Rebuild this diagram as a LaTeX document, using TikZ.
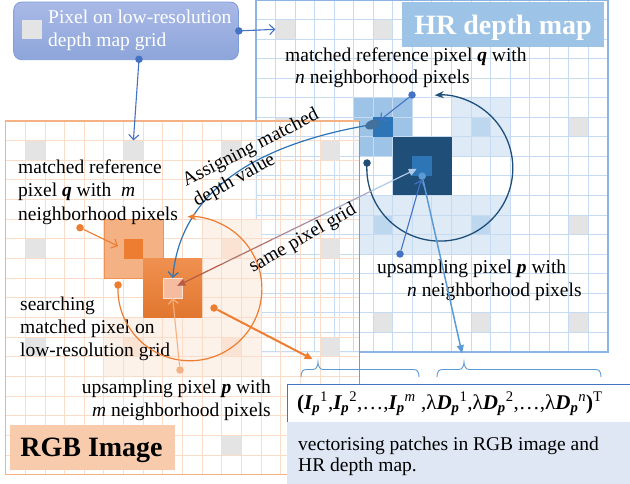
\documentclass[tikz,border=0pt]{standalone}
\usepackage{fontspec}
\setmainfont{Liberation Serif}
\usetikzlibrary{arrows.meta,calc,shapes.geometric}
\definecolor{hgrid}{HTML}{C6DBF1}
\definecolor{hborder}{HTML}{8DB3E2}
\definecolor{hlight}{HTML}{DEEBF7}
\definecolor{hlighttwo}{HTML}{BDD7EE}
\definecolor{hmed}{HTML}{9DC3E6}
\definecolor{cq}{HTML}{2E75B6}
\definecolor{navy}{HTML}{1F4E79}
\definecolor{lowgray}{HTML}{E4E4E4}
\definecolor{rgrid}{HTML}{FBDCC8}
\definecolor{rborder}{HTML}{F4B183}
\definecolor{rlight}{HTML}{FDF2EA}
\definecolor{rlighttwo}{HTML}{FBE3D3}
\definecolor{salmon}{HTML}{F4B183}
\definecolor{orng}{HTML}{ED7D31}
\definecolor{rpc}{HTML}{F6BC9F}
\definecolor{bblue}{HTML}{4472C4}
\definecolor{lblue}{HTML}{5B9BD5}
\definecolor{steel}{HTML}{2E75B6}
\definecolor{blobc}{HTML}{41719C}
\definecolor{descc}{HTML}{DEE7F3}
\definecolor{boxtop}{HTML}{A9B9E6}
\definecolor{boxbot}{HTML}{8DA5DA}
\definecolor{boxline}{HTML}{7D9BD8}
\definecolor{rlab}{HTML}{F8CBAD}
\definecolor{sgA}{HTML}{B85A45}
\definecolor{sgB}{HTML}{B07468}
\definecolor{sgC}{HTML}{A98A9C}
\definecolor{sgD}{HTML}{A6A9C8}
\definecolor{sgE}{HTML}{AECBEA}
\newcommand{\myfs}{\fontsize{19.5}{23.5}\selectfont}
\newcommand{\mybi}[1]{{\bfseries\itshape #1}}
\newcommand{\hx}[1]{(256+(#1)*19.55)}
\newcommand{\hy}[1]{((#1)*19.55)}
\newcommand{\rx}[1]{(5.7+(#1)*19.65)}
\newcommand{\ry}[1]{(121+(#1)*19.65)}
\begin{document}
\begin{tikzpicture}[x=1pt,y=-1pt,
  txt/.style={inner sep=0pt, anchor=base west, font=\myfs},
  dotn/.style={circle, fill=#1, inner sep=0pt, minimum size=7.5pt},
  hcell/.style={minimum size=19.55pt, inner sep=0pt, fill=#1},
  rcell/.style={minimum size=19.65pt, inner sep=0pt, fill=#1},
  openarr/.style={-{Straight Barb[length=5pt,width=10pt]}},
  fillarr/.style={-{Triangle[length=8pt,width=7pt]}},
  bracec/.style={draw=lblue, line width=0.9pt},
]
\useasboundingbox (0,0) rectangle (630,484);
\fill[white] (0,0) rectangle (630,484);

% ---------------- HR depth map ----------------
\fill[white] ({\hx{0}},{\hy{0}}) rectangle ({\hx{18}},{\hy{18}});
\foreach \c in {1,6,11,16}{\foreach \r in {1,6,11,16}{
  \fill[lowgray] ({\hx{\c}},{\hy{\r}}) rectangle ({\hx{\c+1}},{\hy{\r+1}});}}
\fill[hlight] ({\hx{10}},{\hy{5}}) rectangle ({\hx{13}},{\hy{8}});
\fill[hlight] ({\hx{5}},{\hy{10}}) rectangle ({\hx{13}},{\hy{13}});
\fill[hlighttwo] ({\hx{11}},{\hy{6}}) rectangle ({\hx{12}},{\hy{7}});
\fill[hlighttwo] ({\hx{6}},{\hy{11}}) rectangle ({\hx{7}},{\hy{12}});
\fill[hlighttwo] ({\hx{11}},{\hy{11}}) rectangle ({\hx{12}},{\hy{12}});
\fill[hmed] ({\hx{5}},{\hy{5}}) rectangle ({\hx{8}},{\hy{8}});
\node[hcell=lowgray] (h11) at ({\hx{1.5}},{\hy{1.5}}) {};
\foreach \i in {0,...,18}{
  \draw[hgrid, line width=1pt] ({\hx{\i}},{\hy{0}}) -- ({\hx{\i}},{\hy{18}});
  \draw[hgrid, line width=1pt] ({\hx{0}},{\hy{\i}}) -- ({\hx{18}},{\hy{\i}});
}
\fill[navy] ({\hx{7}},{\hy{7}}) rectangle ({\hx{10}},{\hy{10}});
\node[hcell=cq] (hq) at ({\hx{6.5}},{\hy{6.5}}) {};
\node[hcell=cq] (hp) at ({\hx{8.5}},{\hy{8.5}}) {};
\draw[hborder, line width=1.4pt] ({\hx{0}},{\hy{0}}) rectangle ({\hx{18}},{\hy{18}});
\node[fill=hmed, anchor=north west, minimum width=202pt, minimum height=45pt, inner sep=0pt] (hrlab) at (402,1.7) {};
\node[inner sep=0pt, anchor=base, text=white, font=\fontsize{28}{30}\selectfont\bfseries] (hrlabt) at (503,35) {HR depth map};

% ---------------- RGB image ----------------
\fill[white, fill opacity=0.9] ({\rx{0}},{\ry{0}}) rectangle ({\rx{18}},{\ry{18}});
\begin{scope}
\clip ({\rx{0}},{\ry{0}}) rectangle ({\rx{18}},{\ry{18}});
\foreach \i in {0,...,18}{
  \draw[hgrid, line width=1pt] ({\hx{\i}},{\hy{0}}) -- ({\hx{\i}},{\hy{18}});
  \draw[hgrid, line width=1pt] ({\hx{0}},{\hy{\i}}) -- ({\hx{18}},{\hy{\i}});
}
\end{scope}
\foreach \c in {1,6,11,16}{\foreach \r in {1,6,11,16}{
  \fill[lowgray] ({\rx{\c}},{\ry{\r}}) rectangle ({\rx{\c+1}},{\ry{\r+1}});}}
\fill[rlight] ({\rx{10}},{\ry{5}}) rectangle ({\rx{13}},{\ry{13}});
\fill[rlight] ({\rx{5}},{\ry{10}}) rectangle ({\rx{10}},{\ry{13}});
\fill[rlighttwo] ({\rx{11}},{\ry{6}}) rectangle ({\rx{12}},{\ry{7}});
\fill[rlighttwo] ({\rx{6}},{\ry{11}}) rectangle ({\rx{7}},{\ry{12}});
\fill[rlighttwo] ({\rx{11}},{\ry{11}}) rectangle ({\rx{12}},{\ry{12}});
\node[rcell=lowgray] (r61) at ({\rx{6.5}},{\ry{1.5}}) {};
\foreach \i in {0,...,18}{
  \draw[rgrid, line width=1pt] ({\rx{\i}},{\ry{0}}) -- ({\rx{\i}},{\ry{18}});
  \draw[rgrid, line width=1pt] ({\rx{0}},{\ry{\i}}) -- ({\rx{18}},{\ry{\i}});
}
\filldraw[fill=salmon, draw=orng!60!salmon, line width=0.6pt] ({\rx{5}},{\ry{5}}) rectangle ({\rx{8}},{\ry{8}});
\shade[top color=orng!85!white, bottom color=orng!95!black] ({\rx{7}},{\ry{7}}) rectangle ({\rx{10}},{\ry{10}});
\node[rcell=orng] (rq) at ({\rx{6.5}},{\ry{6.5}}) {};
\node[rcell=rpc, draw=rlighttwo, line width=0.6pt] (rp) at ({\rx{8.5}},{\ry{8.5}}) {};
\draw[rborder, line width=1.2pt] ({\rx{0}},{\ry{0}}) rectangle ({\rx{18}},{\ry{18}});
\draw[orng, line width=1.2pt] ({\rx{18}},{\ry{0}}) -- ({\rx{18}},{\ry{18}});
\node[fill=rlab, anchor=north west, minimum width=165.7pt, minimum height=44.3pt, inner sep=0pt] (rgblab) at (9.3,425) {};
\node[inner sep=0pt, anchor=base, font=\fontsize{28}{30}\selectfont\bfseries] (rgblabt) at (91.5,456.7) {RGB Image};

% ---------------- top box ----------------
\node[rounded corners=8pt, top color=boxtop, bottom color=boxbot, draw=boxline, line width=0.8pt,
      anchor=north west, minimum width=224.7pt, minimum height=57.6pt, inner sep=0pt] (pixbox) at (13.3,1.7) {};
\node[fill=lowgray, anchor=north west, minimum width=20pt, minimum height=19.3pt, inner sep=0pt] (pixsq) at (21.7,20) {};
\node[txt, text=white] (pixt1) at (48,23.3) {Pixel on low-resolution};
\node[txt, text=white] (pixt2) at (48,46.7) {depth map grid};
\coordinate (pbotc) at (139,59.3);
\draw[bblue, line width=1.1pt, openarr] (pixbox.east) -- (h11.west);
\draw[bblue, line width=1.1pt, openarr] (pbotc) -- (r61.north);
\node[dotn=bblue] (pixdr) at (pixbox.east) {};
\node[dotn=bblue] (pixdb) at (pbotc) {};

% ---------------- HR texts and connectors ----------------
\node[txt] (hqt1) at (285,61.7) {matched reference pixel \mybi{q} with};
\node[txt] (hqt2) at (295,84) {{\itshape n} neighborhood pixels};
\node[txt] (hpt1) at (377,273.3) {upsampling pixel \mybi{p} with};
\node[txt] (hpt2) at (407,296.7) {{\itshape n} neighborhood pixels};

\node[dotn=bblue] (hqd) at (412,95) {};
\draw[bblue, line width=1.1pt, openarr] (hqd) -- ($(hq.north)+(-3,3)$);
\node[dotn=navy] (hcd) at (367,163) {};
\draw[navy, line width=1.3pt, -{Stealth[length=9pt,width=7pt]}] (hcd.center) arc[start angle=184, end angle=-94, radius=73];

% same pixel grid double arrow
\path (rp.center) -- (hp.center) coordinate[pos=0.2] (sa) coordinate[pos=0.4] (sb) coordinate[pos=0.6] (sc) coordinate[pos=0.8] (sd);
\draw[sgA, line width=1.2pt, {Triangle[length=8pt,width=7pt]}-, shorten <=5pt] (rp.center) -- (sa);
\draw[sgB, line width=1.2pt] (sa) -- (sb);
\draw[sgC, line width=1.2pt] (sb) -- (sc);
\draw[sgD, line width=1.2pt] (sc) -- (sd);
\draw[sgE, line width=1.2pt, -{Triangle[length=8pt,width=7pt]}, shorten >=6pt] (sd) -- (hp.center);
\node[txt, rotate=30] (spg) at (253,273) {same pixel grid};

% assigning arrow
\draw[steel, line width=1.2pt, openarr] (372.5,124.5) .. controls (280,140) and (182,178) .. (rp.north);
\node[ellipse, fill=blobc, minimum width=15pt, minimum height=9pt, inner sep=0pt, rotate=20] (blob) at (372.5,124.5) {};
\node[txt, rotate=27] (asg1) at (186,186.7) {Assigning matched};
\node[txt, rotate=29] (asg2) at (197,207) {depth value};

\node[dotn=lblue] (hpd) at (hp.south) {};
\node[dotn=bblue] (hud) at (400,254) {};
\draw[bblue, line width=1.1pt, openarr] (hud) -- (hpd);

% ---------------- RGB texts and connectors ----------------
\node[txt] (rqt1) at (18,173.5) {matched reference};
\node[txt] (rqt2) at (18,197) {pixel \mybi{q} with\ \ {\itshape m}};
\node[txt] (rqt3) at (18,220.5) {neighborhood pixels};
\node[txt] (rst1) at (20,310) {searching};
\node[txt] (rst2) at (20,333.3) {matched pixel on};
\node[txt] (rst3) at (20,356.7) {low-resolution grid};
\node[txt, anchor=base east] (rpt1) at (271,393.3) {upsampling pixel \mybi{p} with};
\node[txt, anchor=base east] (rpt2) at (271,416.7) {{\itshape m} neighborhood pixels};

\node[dotn=orng] (rqd) at (80,227.7) {};
\draw[orng, line width=1.1pt, openarr, shorten >=6pt] (rqd) -- (rq.west);
\node[dotn=orng] (rcd) at (118,285) {};
\draw[orng, line width=1.2pt, -{Stealth[length=9pt,width=7pt]}] (rcd.center) arc[start angle=183, end angle=-92, radius=72];
\node[dotn=salmon] (rud) at (180,370) {};
\draw[salmon, line width=1.1pt, openarr] (rud) -- (rp.south);

% ---------------- vector boxes ----------------
\node[draw=bblue, fill=white, line width=0.9pt, anchor=north west, minimum width=360pt, minimum height=37.4pt, inner sep=0pt] (vecbox) at (286.7,384.3) {};
\node[txt, font=\fontsize{21}{24}\selectfont] (vec) at (297,409) {{\bfseries(}\mybi{I}\textsubscript{\mybi{p}}\textsuperscript{1},\mybi{I}\textsubscript{\mybi{p}}\textsuperscript{2},…,\mybi{I}\textsubscript{\mybi{p}}\textsuperscript{\itshape m} ,λ\mybi{D}\textsubscript{\mybi{p}}\textsuperscript{1},λ\mybi{D}\textsubscript{\mybi{p}}\textsuperscript{2},…,λ\mybi{D}\textsubscript{\mybi{p}}\textsuperscript{\itshape n}{\bfseries)}\textsuperscript{T}};
\node[fill=descc, anchor=north west, minimum width=345pt, minimum height=63pt, inner sep=0pt] (descbox) at (287,421.7) {};
\node[txt] (desc1) at (298,450) {vectorising patches in RGB image and};
\node[txt] (desc2) at (298,471.7) {HR depth map.};

% braces
\coordinate (lbtip) at (318,362);
\coordinate (rbtip) at (464,362);
\draw[bracec] (301,377) .. controls (301,371) and (303,369.5) .. (307,369.5) -- (313,369.5) .. controls (316,369.5) and (318,366) .. (lbtip) .. controls (318,366) and (320,369.5) .. (323,369.5) -- (413,369.5) .. controls (417,369.5) and (419,371) .. (419,377);
\draw[bracec] (437,377) .. controls (437,371) and (439,369.5) .. (443,369.5) -- (459,369.5) .. controls (462,369.5) and (464,366) .. (rbtip) .. controls (464,366) and (466,369.5) .. (469,369.5) -- (595,369.5) .. controls (599,369.5) and (601,371) .. (601,377);

\node[dotn=orng] (rad) at (214,308) {};
\draw[orng, line width=2pt, fillarr, shorten >=6pt] (rad) -- (lbtip);
\draw[lblue, line width=1.5pt, fillarr, shorten >=9pt] (hpd) -- (rbtip);
\end{tikzpicture}
\end{document}
